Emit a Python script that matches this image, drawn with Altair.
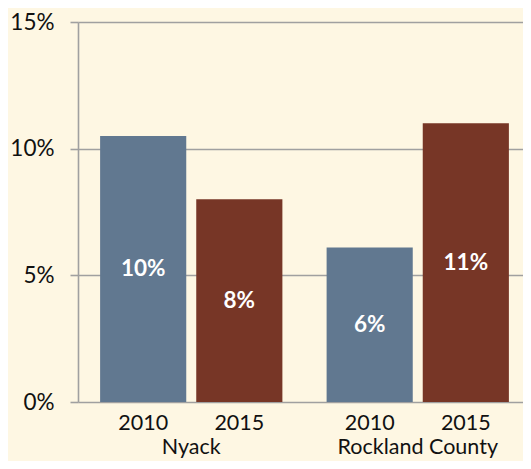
import altair as alt
import pandas as pd

groups = ["Nyack", "Nyack", "Rockland County", "Rockland County"]
years = ["2010", "2015", "2010", "2015"]
values = [10.5, 8.0, 6.1, 11.0]
labels = ["10%", "8%", "6%", "11%"]
y_ticks = [0, 5, 10, 15]

df = pd.DataFrame({"group": groups, "year": years, "value": values, "label": labels})

FONT = "Lato"
W, H = 445, 380
SIZE = 22.5
XSIZE = 21.5

xenc = alt.X("group:N", sort=["Nyack", "Rockland County"],
             scale=alt.Scale(paddingInner=0, paddingOuter=0, range=[0, 453]),
             axis=alt.Axis(title=None, labelAngle=0, ticks=False, tickSize=0,
                           domain=False, labelPadding=45, labelBaseline="middle",
                           labelFontSize=XSIZE, labelFont=FONT, labelColor="#111111"))
xoff = alt.XOffset("year:N", sort=["2010", "2015"],
                   scale=alt.Scale(paddingInner=0.104, paddingOuter=0.23))

base = alt.Chart(df)

bars = base.mark_bar(stroke=None).encode(
    x=xenc,
    xOffset=xoff,
    y=alt.Y("value:Q", scale=alt.Scale(domain=[0, 15], nice=False),
            axis=alt.Axis(title=None, values=y_ticks, labelExpr="datum.value + '%'",
                          grid=True, gridColor="#A0A0A0", gridWidth=1.6,
                          domain=True, domainColor="#A0A0A0", domainWidth=1.6,
                          ticks=True, tickSize=8, tickColor="#A0A0A0", tickWidth=1.6,
                          labelFontSize=SIZE, labelFont=FONT, labelColor="#111111",
                          labelPadding=16)),
    color=alt.Color("year:N", scale=alt.Scale(domain=["2010", "2015"],
                                              range=["#617890", "#773626"]),
                    legend=None),
)

bar_text = base.transform_calculate(mid="datum.value / 2").mark_text(
    color="white", fontWeight="bold", fontSize=SIZE, font=FONT, baseline="middle"
).encode(
    x=alt.X("group:N", sort=["Nyack", "Rockland County"]),
    xOffset=xoff,
    y=alt.Y("mid:Q"),
    text="label:N",
)

year_text = base.mark_text(
    color="#111111", fontSize=XSIZE, font=FONT, baseline="middle"
).encode(
    x=alt.X("group:N", sort=["Nyack", "Rockland County"]),
    xOffset=xoff,
    y=alt.value(H + 22),
    text="year:N",
)

chart = alt.layer(bars, bar_text, year_text).properties(
    width=W, height=H,
    background="#FEF7E3",
    padding={"left": 70, "top": 14, "right": 0, "bottom": 59},
    autosize=alt.AutoSizeParams(type="none"),
).configure_view(stroke=None)

chart.save("out.html", embed_options={"renderer": "svg", "actions": False})
